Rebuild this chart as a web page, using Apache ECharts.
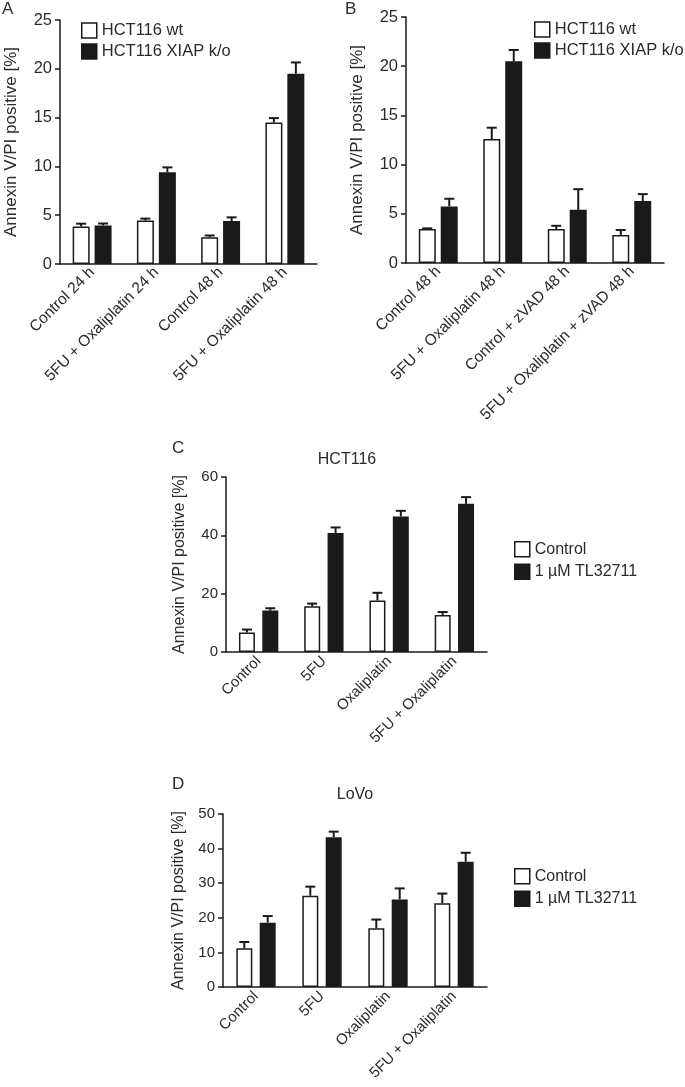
<!DOCTYPE html>
<html>
<head>
<meta charset="utf-8">
<script src="https://cdn.jsdelivr.net/npm/echarts@6/dist/echarts.min.js"></script>
<style>
  html, body { margin: 0; padding: 0; background: #fff; }
  #chart { width: 685px; height: 1087px; }
</style>
</head>
<body>
<div id="chart"></div>
<script>
// panel A
const aCats = ['Control 24 h', '5FU + Oxaliplatin 24 h', 'Control 48 h', '5FU + Oxaliplatin 48 h'];
const aWt = [3.85, 4.45, 2.75, 14.5];
const aWtErr = [0.28, 0.2, 0.17, 0.45];
const aKo = [3.95, 9.4, 4.4, 19.5];
const aKoErr = [0.2, 0.5, 0.38, 1.15];

// panel B
const bCats = ['Control 48 h', '5FU + Oxaliplatin 48 h', 'Control + zVAD 48 h', '5FU + Oxaliplatin + zVAD 48 h'];
const bWt = [3.45, 12.6, 3.45, 2.85];
const bWtErr = [0.07, 1.15, 0.33, 0.5];
const bKo = [5.75, 20.5, 5.4, 6.3];
const bKoErr = [0.78, 1.15, 2.1, 0.7];

// panels C and D
const cdCats = ['Control', '5FU', 'Oxaliplatin', '5FU + Oxaliplatin'];
const cCtrl = [6.7, 15.7, 17.7, 12.7];
const cCtrlErr = [1.0, 0.9, 2.6, 1.0];
const cTl = [14.2, 40.8, 46.5, 50.8];
const cTlErr = [0.8, 1.9, 1.9, 2.3];
const dCtrl = [11.2, 26.4, 17.0, 24.2];
const dCtrlErr = [1.8, 2.6, 2.5, 2.8];
const dTl = [18.6, 43.3, 25.3, 36.2];
const dTlErr = [1.9, 1.6, 3.2, 2.6];

const yTitle = 'Annexin V/PI positive [%]';
const FONT = "'Liberation Sans', Arial, sans-serif";
const INK = '#1a1a1a';
const TXT = '#2a2a2a';

const whiteStyle = { color: '#fff', borderColor: INK, borderWidth: 1.5 };
const blackStyle = { color: INK, borderColor: INK, borderWidth: 1.5 };

function errRender(offset) {
  return function (params, api) {
    const base = api.coord([api.value(0), api.value(1)]);
    const top = api.coord([api.value(0), api.value(2)]);
    const x = base[0] + offset;
    const st = { stroke: INK, lineWidth: 2 };
    return {
      type: 'group',
      children: [
        { type: 'line', shape: { x1: x, y1: base[1], x2: x, y2: top[1] }, style: st },
        { type: 'line', shape: { x1: x - 5, y1: top[1], x2: x + 5, y2: top[1] }, style: st }
      ]
    };
  };
}

function errSeries(idx, vals, errs, offset) {
  return {
    type: 'custom',
    xAxisIndex: idx,
    yAxisIndex: idx,
    silent: true,
    z: 1,
    renderItem: errRender(offset),
    encode: { x: 0, y: [1, 2] },
    data: vals.map((v, i) => [i, v, v + errs[i]])
  };
}

function xAx(idx, cats, fs, align, margin) {
  return {
    type: 'category', gridIndex: idx, data: cats,
    axisLine: { lineStyle: { color: INK, width: 1.5 } },
    axisTick: { length: 5, alignWithLabel: align, lineStyle: { color: INK, width: 1.5 } },
    axisLabel: { rotate: 45, interval: 0, fontSize: fs, color: TXT, fontFamily: FONT, margin: margin }
  };
}

function yAx(idx, max, step, fs, gap, nfs) {
  return {
    type: 'value', gridIndex: idx, min: 0, max: max, interval: step,
    name: yTitle, nameLocation: 'middle', nameGap: gap, nameRotate: 90,
    nameTextStyle: { fontSize: nfs, color: TXT, fontFamily: FONT },
    splitLine: { show: false },
    axisLine: { show: true, lineStyle: { color: INK, width: 1.5 } },
    axisTick: { show: true, length: 5, lineStyle: { color: INK, width: 1.5 } },
    axisLabel: { fontSize: fs, color: TXT, fontFamily: FONT, margin: 8 }
  };
}

function barS(idx, name, vals, style, w, gap) {
  return {
    type: 'bar', name: name, xAxisIndex: idx, yAxisIndex: idx,
    data: vals, barWidth: w, barGap: gap, itemStyle: style, z: 2,
    emphasis: { disabled: true }
  };
}

function legendAt(left, top, names, fs, gap) {
  return {
    orient: 'vertical', left: left, top: top, padding: 0,
    itemWidth: 15, itemHeight: 15, itemGap: gap, icon: 'rect',
    selectedMode: false,
    textStyle: { fontSize: fs, color: TXT, fontFamily: FONT, lineHeight: 15 },
    data: [
      { name: names[0], itemStyle: whiteStyle },
      { name: names[1], itemStyle: blackStyle }
    ]
  };
}

const chart = echarts.init(document.getElementById('chart'), null, { renderer: 'canvas' });

const ab = ['HCT116 wt', 'HCT116 XIAP k/o'];
const cd = ['Control', '1 \u00b5M TL32711'];
const letterStyle = { fontSize: 17, fontWeight: 'normal', color: TXT, fontFamily: FONT };

chart.setOption({
  backgroundColor: '#fff',
  animation: false,
  textStyle: { fontFamily: FONT },
  title: [
    { text: 'A', left: 2, top: 1, padding: 0, textStyle: letterStyle },
    { text: 'B', left: 345, top: 1, padding: 0, textStyle: letterStyle },
    { text: 'C', left: 172, top: 440, padding: 0, textStyle: letterStyle },
    { text: 'D', left: 172, top: 776, padding: 0, textStyle: letterStyle },
    { text: 'HCT116', left: 347, textAlign: 'center', top: 452, padding: 0, textStyle: { fontSize: 16, fontWeight: 'normal', color: TXT, fontFamily: FONT } },
    { text: 'LoVo', left: 355, textAlign: 'center', top: 787, padding: 0, textStyle: { fontSize: 16, fontWeight: 'normal', color: TXT, fontFamily: FONT } }
  ],
  legend: [
    legendAt(81, 22, ab, 16.5, 4),
    legendAt(534, 21, ab, 16.5, 4),
    legendAt(514, 541, cd, 16, 6),
    legendAt(514, 868, cd, 16, 6)
  ],
  grid: [
    { left: 60, top: 20, width: 257, height: 244 },
    { left: 406, top: 17, width: 258, height: 246 },
    { left: 226, top: 477, width: 261, height: 175 },
    { left: 223, top: 814, width: 264, height: 173 }
  ],
  xAxis: [
    xAx(0, aCats, 15.5, false, 6),
    xAx(1, bCats, 15.5, false, 6),
    xAx(2, cdCats, 15, true, 7),
    xAx(3, cdCats, 15, true, 7)
  ],
  yAxis: [
    yAx(0, 25, 5, 16.5, 40, 17),
    yAx(1, 25, 5, 16.5, 40, 17),
    yAx(2, 60, 20, 15, 38, 16),
    yAx(3, 50, 10, 15, 36, 16)
  ],
  series: [
    barS(0, ab[0], aWt, whiteStyle, 17, '29%'),
    barS(0, ab[1], aKo, blackStyle, 17, '29%'),
    errSeries(0, aWt, aWtErr, -11),
    errSeries(0, aKo, aKoErr, 11),

    barS(1, ab[0], bWt, whiteStyle, 17, '29%'),
    barS(1, ab[1], bKo, blackStyle, 17, '29%'),
    errSeries(1, bWt, bWtErr, -11),
    errSeries(1, bKo, bKoErr, 11),

    barS(2, cd[0], cCtrl, whiteStyle, 16, '46%'),
    barS(2, cd[1], cTl, blackStyle, 16, '46%'),
    errSeries(2, cCtrl, cCtrlErr, -11.7),
    errSeries(2, cTl, cTlErr, 11.7),

    barS(3, cd[0], dCtrl, whiteStyle, 16, '46%'),
    barS(3, cd[1], dTl, blackStyle, 16, '46%'),
    errSeries(3, dCtrl, dCtrlErr, -11.7),
    errSeries(3, dTl, dTlErr, 11.7)
  ]
});
</script>
</body>
</html>
